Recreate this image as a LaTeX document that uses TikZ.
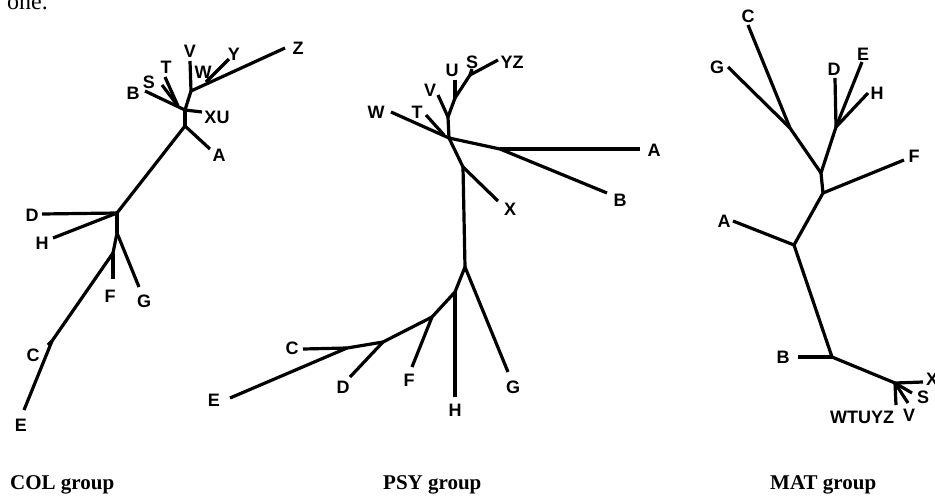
\documentclass[tikz,border=0pt]{standalone}
\usepackage{fontspec}
\setmainfont{Liberation Serif}
\setsansfont{Liberation Sans}
\begin{document}
\begin{tikzpicture}[x=1pt, y=-1pt,
  br/.style={line width=3.2pt, line join=round, black},
  lbl/.style={font=\sffamily\bfseries\fontsize{18}{20}\selectfont, inner sep=0pt},
  grp/.style={font=\rmfamily\bfseries\fontsize{21}{24}\selectfont, inner sep=0pt, anchor=base west}]
\useasboundingbox (0,0) rectangle (935,496);
\clip (0,0) rectangle (935,496);

\node[font=\rmfamily\fontsize{24}{28}\selectfont, inner sep=0pt, anchor=base west] at (7,9) (prev) {one.};

% COL group
\coordinate (cZ) at (285,48);  \coordinate (cvj) at (191,91);
\coordinate (cY) at (229,59);  \coordinate (cyj) at (206,82);
\coordinate (cV) at (190,61);  \coordinate (cbj) at (185,110);
\coordinate (cB) at (145,91);  \coordinate (cstj) at (178,106);
\coordinate (cS) at (162,85);  \coordinate (cT) at (165,77);
\coordinate (cXU) at (202,112); \coordinate (caj) at (185,126);
\coordinate (cA) at (210,149); \coordinate (cdj) at (117,213);
\coordinate (cD) at (42,214);  \coordinate (cH) at (53,238);
\coordinate (cgj) at (117,233); \coordinate (cG) at (139,287);
\coordinate (cfj) at (113,253); \coordinate (cF) at (113,279);
\coordinate (ccj) at (52,341); \coordinate (cC) at (48,345);
\coordinate (cE) at (24,410);

\draw[br] (cZ)--(cvj); \draw[br] (cY)--(cyj); \draw[br] (cV)--(cvj);
\draw[br] (cvj)--(cbj); \draw[br] (cB)--(cbj); \draw[br] (cS)--(cstj);
\draw[br] (cT)--(cstj); \draw[br] (cbj)--(cXU); \draw[br] (cbj)--(caj);
\draw[br] (caj)--(cA); \draw[br] (caj)--(cdj); \draw[br] (cD)--(cdj);
\draw[br] (cH)--(cdj); \draw[br] (cdj)--(cgj); \draw[br] (cgj)--(cG);
\draw[br] (cgj)--(cfj); \draw[br] (cfj)--(cF); \draw[br] (cfj)--(ccj);
\draw[br] (ccj)--(cC); \draw[br] (ccj)--(cE);

\node[lbl] at (298,48) (cZl) {Z};   \node[lbl] at (234,54) (cYl) {Y};
\node[lbl] at (190,51) (cVl) {V};   \node[lbl] at (203,72) (cWl) {W};
\node[lbl] at (166,67) (cTl) {T};   \node[lbl] at (149,82) (cSl) {S};
\node[lbl] at (133,93) (cBl) {B};   \node[lbl] at (217,117) (cXUl) {XU};
\node[lbl] at (219,155) (cAl) {A};  \node[lbl] at (32,215) (cDl) {D};
\node[lbl] at (42,243) (cHl) {H};   \node[lbl] at (110,296) (cFl) {F};
\node[lbl] at (144,301) (cGl) {G};  \node[lbl] at (33,355) (cCl) {C};
\node[lbl] at (21,425) (cEl) {E};
\node[grp] at (10,489) (colg) {COL group};

% PSY group
\coordinate (pW) at (391,112);  \coordinate (pmj) at (449,138);
\coordinate (pT) at (426,115);  \coordinate (ptj) at (444,135);
\coordinate (pvj) at (448,117); \coordinate (pV) at (438,95);
\coordinate (puj) at (455,98);  \coordinate (pU) at (455,80);
\coordinate (psj) at (470,75);  \coordinate (pS) at (472,69);
\coordinate (pYZ) at (498,60);  \coordinate (pbj) at (500,149);
\coordinate (pA) at (640,149);  \coordinate (pB) at (607,193);
\coordinate (pxj) at (463,167); \coordinate (pX) at (498,201);
\coordinate (pgj) at (465,267); \coordinate (pG) at (508,372);
\coordinate (phj) at (455,292); \coordinate (pH) at (455,397);
\coordinate (pfj) at (432,317); \coordinate (pF) at (412,367);
\coordinate (pdj) at (383,342); \coordinate (pD) at (350,377);
\coordinate (pcj) at (347,348); \coordinate (pC) at (303,349);
\coordinate (pE) at (230,398);

\draw[br] (pW)--(pmj); \draw[br] (pT)--(ptj); \draw[br] (pvj)--(pmj);
\draw[br] (pV)--(pvj); \draw[br] (pvj)--(puj); \draw[br] (pU)--(puj);
\draw[br] (puj)--(psj); \draw[br] (psj)--(pS); \draw[br] (psj)--(pYZ);
\draw[br] (pmj)--(pbj); \draw[br] (pbj)--(pA); \draw[br] (pbj)--(pB);
\draw[br] (pmj)--(pxj); \draw[br] (pxj)--(pX); \draw[br] (pxj)--(pgj);
\draw[br] (pgj)--(pG); \draw[br] (pgj)--(phj); \draw[br] (phj)--(pH);
\draw[br] (phj)--(pfj); \draw[br] (pfj)--(pF); \draw[br] (pfj)--(pdj);
\draw[br] (pdj)--(pD); \draw[br] (pdj)--(pcj); \draw[br] (pC)--(pcj);
\draw[br] (pcj)--(pE);

\node[lbl] at (376,112) (pWl) {W};  \node[lbl] at (417,112) (pTl) {T};
\node[lbl] at (430,90) (pVl) {V};   \node[lbl] at (452,70) (pUl) {U};
\node[lbl] at (472,62) (pSl) {S};   \node[lbl] at (512,62) (pYZl) {YZ};
\node[lbl] at (654,150) (pAl) {A};  \node[lbl] at (620,200) (pBl) {B};
\node[lbl] at (510,209) (pXl) {X};  \node[lbl] at (513,387) (pGl) {G};
\node[lbl] at (455,410) (pHl) {H};  \node[lbl] at (409,380) (pFl) {F};
\node[lbl] at (343,387) (pDl) {D};  \node[lbl] at (292,348) (pCl) {C};
\node[lbl] at (214,400) (pEl) {E};
\node[grp] at (383,489) (psyg) {PSY group};

% MAT group
\coordinate (mC) at (748,25);   \coordinate (mcgj) at (790,128);
\coordinate (mG) at (728,67);   \coordinate (muj) at (821,173);
\coordinate (mD) at (835,78);   \coordinate (mdj) at (836,127);
\coordinate (mE) at (862,62);   \coordinate (mH) at (868,93);
\coordinate (mfj) at (823,193); \coordinate (mF) at (904,160);
\coordinate (maj) at (794,245); \coordinate (mA) at (733,221);
\coordinate (mbj) at (832,357); \coordinate (mB) at (798,357);
\coordinate (mxj) at (895,383); \coordinate (mX) at (923,382);
\coordinate (mS) at (912,393);  \coordinate (mV) at (908,403);
\coordinate (mW) at (896,405);

\draw[br] (mC)--(mcgj); \draw[br] (mG)--(mcgj); \draw[br] (mcgj)--(muj);
\draw[br] (mD)--(mdj); \draw[br] (mE)--(mdj); \draw[br] (mH)--(mdj);
\draw[br] (mdj)--(muj); \draw[br] (muj)--(mfj); \draw[br] (mfj)--(mF);
\draw[br] (mfj)--(maj); \draw[br] (mA)--(maj); \draw[br] (maj)--(mbj);
\draw[br] (mB)--(mbj); \draw[br] (mbj)--(mxj); \draw[br] (mxj)--(mX);
\draw[br] (mxj)--(mS); \draw[br] (mxj)--(mV); \draw[br] (mxj)--(mW);

\node[lbl] at (748,16) (mCl) {C};   \node[lbl] at (717,67) (mGl) {G};
\node[lbl] at (834,69) (mDl) {D};   \node[lbl] at (863,54) (mEl) {E};
\node[lbl] at (877,93) (mHl) {H};   \node[lbl] at (914,156) (mFl) {F};
\node[lbl] at (724,221) (mAl) {A};  \node[lbl] at (783,357) (mBl) {B};
\node[lbl] at (932,379) (mXl) {X};  \node[lbl] at (923,397) (mSl) {S};
\node[lbl] at (909,415) (mVl) {V};  \node[lbl] at (862,417) (mWl) {WTUYZ};
\node[grp] at (770,489) (matg) {MAT group};
\end{tikzpicture}
\end{document}
